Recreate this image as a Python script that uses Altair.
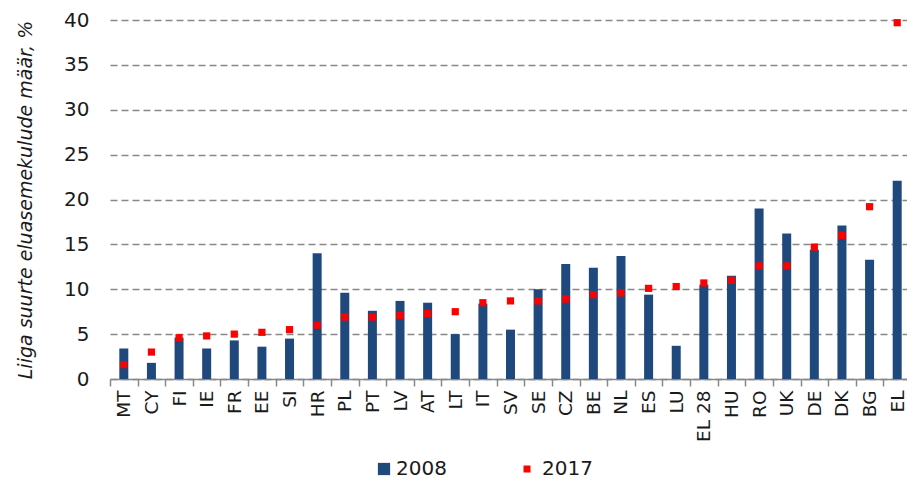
import altair as alt
import pandas as pd

categories = ["MT", "CY", "FI", "IE", "FR", "EE", "SI", "HR", "PL", "PT", "LV", "AT", "LT", "IT",
              "SV", "SE", "CZ", "BE", "NL", "ES", "LU", "EL 28", "HU", "RO", "UK", "DE", "DK", "BG", "EL"]
values_2008 = [3.4, 1.8, 4.6, 3.4, 4.3, 3.6, 4.5, 14.0, 9.6, 7.6, 8.7, 8.5, 5.0, 8.4,
               5.5, 10.0, 12.8, 12.4, 13.7, 9.4, 3.7, 10.5, 11.5, 19.0, 16.2, 14.4, 17.1, 13.3, 22.1]
values_2017 = [1.6, 3.0, 4.6, 4.8, 5.0, 5.2, 5.5, 6.0, 6.9, 6.9, 7.1, 7.3, 7.5, 8.5,
               8.7, 8.7, 8.9, 9.4, 9.6, 10.1, 10.3, 10.7, 11.0, 12.6, 12.6, 14.7, 16.0, 19.2, 39.7]
y_ticks = [0, 5, 10, 15, 20, 25, 30, 35, 40]
series_names = ["2008", "2017"]
y_title = "Liiga suurte eluasemekulude määr, %"

df = pd.DataFrame({"country": categories, "v2008": values_2008, "v2017": values_2017})

FONT = "DejaVu Sans"
TXT = "#1a1a1a"

x_enc = alt.X(
    "country:N",
    sort=categories,
    scale=alt.Scale(paddingInner=0, paddingOuter=0, range=[0, 801]),
    axis=alt.Axis(
        title=None, labelAngle=-90, labelFontSize=18.5, labelFont=FONT, labelColor=TXT,
        labelPadding=4, tickBand="extent", tickSize=7, tickColor="#888888", tickWidth=1.5,
        domainColor="#888888", domainWidth=1.5, grid=False, labelOverlap=False,
    ),
)

y_enc_axis = alt.Axis(
    values=y_ticks, title=y_title, titleFont=FONT, titleFontSize=19, titleFontStyle="italic",
    titleFontWeight="normal", titleColor=TXT, titlePadding=28,
    labelFont=FONT, labelFontSize=20, labelColor=TXT, labelPadding=21,
    domain=False, ticks=False, grid=True, gridColor="#888888", gridDash=[7, 4], gridWidth=1.5,
)

bars = alt.Chart(df).transform_calculate(series="'2008'").mark_bar(size=9, clip=False).encode(
    x=x_enc,
    y=alt.Y("v2008:Q", scale=alt.Scale(domain=[0, 40], nice=False), axis=y_enc_axis),
    color=alt.Color(
        "series:N",
        scale=alt.Scale(domain=[series_names[0]], range=["#1F497D"]),
        legend=alt.Legend(
            title=None, orient="none", legendX=264, legendY=439, symbolType="square",
            symbolSize=150, symbolStrokeWidth=0, labelFontSize=20, labelFont=FONT,
            labelColor=TXT, labelOffset=2, padding=0,
        ),
    ),
)

points = alt.Chart(df).transform_calculate(series17="'2017'").mark_square(
    size=52, opacity=1, clip=False
).encode(
    x=alt.X("country:N", sort=categories),
    y=alt.Y("v2017:Q"),
    fill=alt.Fill(
        "series17:N",
        scale=alt.Scale(domain=[series_names[1]], range=["#FF0000"]),
        legend=alt.Legend(
            title=None, orient="none", legendX=407, legendY=439, symbolType="square",
            symbolSize=49, symbolStrokeWidth=0, labelFontSize=20, labelFont=FONT,
            labelColor=TXT, labelOffset=5, padding=0,
        ),
    ),
)

chart = alt.layer(bars, points).resolve_scale(color="independent").properties(
    width=797,
    height=359,
    autosize=alt.AutoSizeParams(type="none"),
    padding={"left": 102, "top": 12, "right": 0, "bottom": 102},
).configure_view(stroke=None)

chart.save("out.html", embed_options={"renderer": "svg", "actions": False})
